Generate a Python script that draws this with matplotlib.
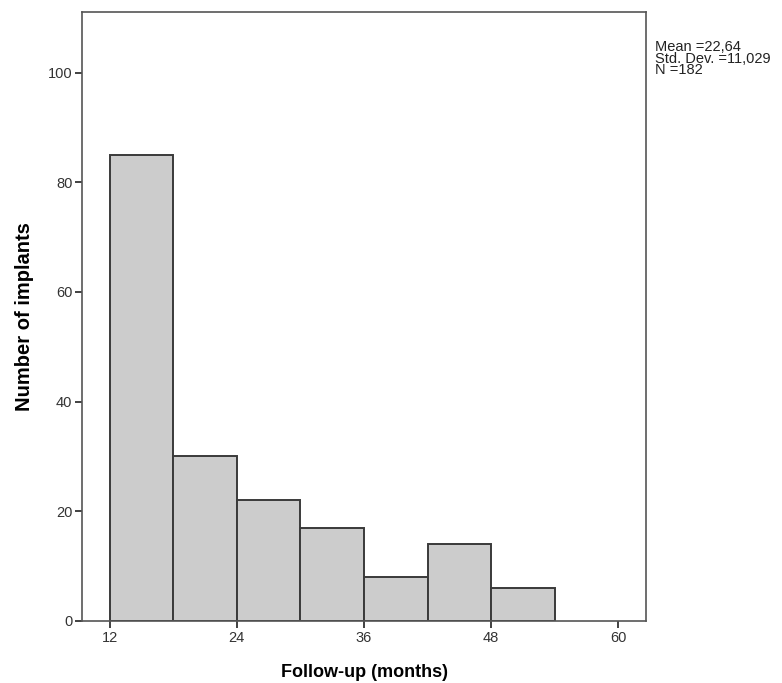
import numpy as np
import matplotlib
matplotlib.use('Agg')
import matplotlib.pyplot as plt

plt.rcParams['font.family'] = ['Liberation Sans', 'DejaVu Sans']

# histogram data
bin_edges = [12, 18, 24, 30, 36, 42, 48, 54]
counts = [85, 30, 22, 17, 8, 14, 6]
x_ticks = [12, 24, 36, 48, 60]
y_ticks = [0, 20, 40, 60, 80, 100]
stats_lines = ['Mean =22,64', 'Std. Dev. =11,029', 'N =182']

fig = plt.figure(figsize=(7.82, 6.83), dpi=100)
ax = fig.add_axes([0.105, 0.091, 0.721, 0.891])

widths = np.diff(bin_edges)
ax.bar(bin_edges[:-1], counts, width=widths, align='edge',
       facecolor='#cccccc', edgecolor='#3a3a3a', linewidth=1.4)

ax.set_xlim(9.4, 62.6)
ax.set_ylim(0, 111)
ax.set_xticks(x_ticks)
ax.set_yticks(y_ticks)
ax.tick_params(direction='out', length=5, width=1.3, color='#333333',
               labelsize=10.5, labelcolor='#333333', pad=2)
for s in ax.spines.values():
    s.set_color('#555555')
    s.set_linewidth(1.2)

ax.set_xlabel('Follow-up (months)', fontsize=13, fontweight='bold', labelpad=14)
ax.set_ylabel('Number of implants', fontsize=14.5, fontweight='bold', labelpad=10)

# summary stats box text (one block, tight line spacing)
fig.text(655 / 782, 1 - 40 / 683, '\n'.join(stats_lines), fontsize=10.5,
         va='top', ha='left', color='#222222', linespacing=0.78)

fig.savefig('out.png', dpi=100)
